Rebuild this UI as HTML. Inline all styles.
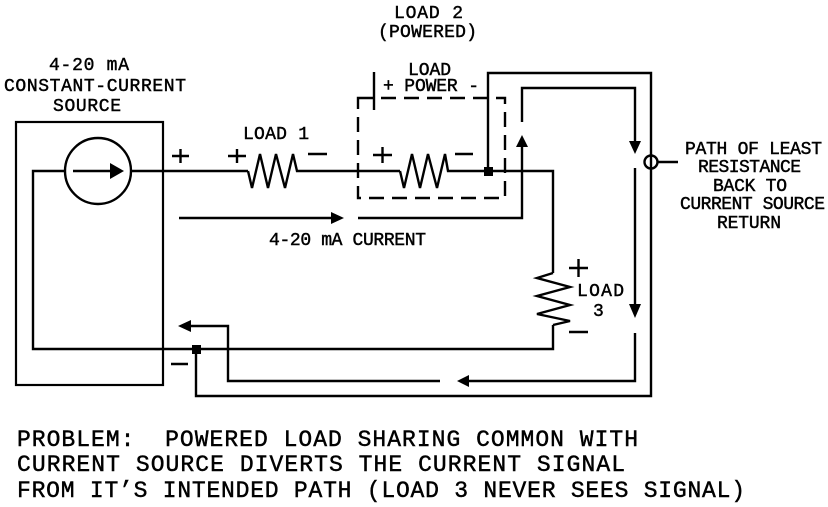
<!DOCTYPE html>
<html>
<head>
<meta charset="utf-8">
<style>
  html,body{margin:0;padding:0;background:#fff;}
  svg{display:block;}
  text{font-family:"Liberation Mono","DejaVu Sans Mono",monospace;fill:#000;stroke:#000;stroke-width:0.45;}
  .s{font-size:18px;}
  .b{font-size:23px;}
</style>
</head>
<body>
<svg width="828" height="507" viewBox="0 0 828 507" xmlns="http://www.w3.org/2000/svg">
  <g fill="none" stroke="#000" stroke-width="2.4" stroke-linejoin="miter" stroke-linecap="butt">
    <!-- source box -->
    <rect x="16" y="122" width="147" height="263" stroke-width="2.2"/>
    <circle cx="98" cy="171" r="33"/>
    <!-- arrow inside source -->
    <line x1="73" y1="171" x2="112" y2="171"/>
    <!-- inner return wire -->
    <path d="M65,171 H33 V349 H553 V325"/>
    <!-- main wire -->
    <path d="M131,171 H248"/>
    <!-- load 1 -->
    <path d="M248,171 L252,188 L260,154 L268,188 L276,154 L285,188 L293,154 L297,171 H400"/>
    <!-- load 2 -->
    <path d="M400,171 L404,188 L412,154 L420,188 L428,154 L437,188 L445,154 L448,171 H553 V273"/>
    <!-- load 3 -->
    <path d="M553,273 L537,278 L570,287 L537,296 L570,305 L537,314 L570,321 L553,325"/>
    <!-- battery plate -->
    <line x1="374" y1="72" x2="374" y2="110"/>
    <!-- dashed box -->
    <rect x="358" y="98" width="147" height="100" stroke-dasharray="15 8"/>
    <!-- outer loop -->
    <path d="M488,171 V73 H651 V396 H196 V349"/>
    <!-- small circle and leader -->
    <circle cx="651" cy="162" r="6.5"/>
    <line x1="658" y1="162" x2="678" y2="162"/>
    <!-- current flow arrows -->
    <path d="M179,218 H333"/>
    <path d="M358,218 H522 V146"/>
    <path d="M522,122 V88 H635 V142"/>
    <path d="M635,168 V305"/>
    <path d="M635,333 V381 H468"/>
    <path d="M440,381 H228 V326 H190"/>
    <!-- big plus / minus signs -->
    <path d="M172,156 H189 M180.5,149 V163"/>
    <path d="M228,156 H246 M237,149 V163"/>
    <path d="M308,154 H327"/>
    <path d="M373,155 H392 M382.5,147 V163"/>
    <path d="M455,154 H473"/>
    <path d="M569,268 H588 M578.5,259 V277"/>
    <path d="M569,332 H588"/>
    <path d="M171,364 H188"/>
  </g>
  <g fill="#000" stroke="none">
    <!-- arrowheads -->
    <polygon points="124,171 110,163 110,179"/>
    <polygon points="344,218 331,212 331,224"/>
    <polygon points="522,135 516,147 528,147"/>
    <polygon points="635,154 629,141 641,141"/>
    <polygon points="635,318 629,304 641,304"/>
    <polygon points="457,381 469,375 469,387"/>
    <polygon points="178,326 191,320 191,332"/>
    <!-- junction dots -->
    <rect x="484" y="167" width="9" height="9"/>
    <rect x="192" y="345" width="9" height="9"/>
  </g>

  <!-- labels -->
  <text class="s" x="49" y="70" textLength="80" lengthAdjust="spacing">4-20 mA</text>
  <text class="s" x="4" y="91" textLength="182" lengthAdjust="spacing">CONSTANT-CURRENT</text>
  <text class="s" x="53" y="111" textLength="68" lengthAdjust="spacing">SOURCE</text>

  <text class="s" x="394" y="18" textLength="69" lengthAdjust="spacing">LOAD 2</text>
  <text class="s" x="378" y="37" textLength="99" lengthAdjust="spacing">(POWERED)</text>

  <text class="s" x="408" y="75" textLength="43" lengthAdjust="spacing">LOAD</text>
  <text class="s" x="383" y="91" textLength="96" lengthAdjust="spacing">+ POWER -</text>

  <text class="s" x="243" y="139" textLength="66" lengthAdjust="spacing">LOAD 1</text>
  <text class="s" x="269" y="245" textLength="157" lengthAdjust="spacing">4-20 mA CURRENT</text>

  <text class="s" x="685" y="154" textLength="137" lengthAdjust="spacing">PATH OF LEAST</text>
  <text class="s" x="698" y="172" textLength="103" lengthAdjust="spacing">RESISTANCE</text>
  <text class="s" x="713" y="191" textLength="74" lengthAdjust="spacing">BACK TO</text>
  <text class="s" x="680" y="209" textLength="145" lengthAdjust="spacing">CURRENT SOURCE</text>
  <text class="s" x="717" y="228" textLength="64" lengthAdjust="spacing">RETURN</text>

  <text class="s" x="577" y="296" textLength="47" lengthAdjust="spacing">LOAD</text>
  <text class="s" x="593" y="316">3</text>

  <text class="b" x="17" y="446" textLength="621" lengthAdjust="spacing" xml:space="preserve">PROBLEM:  POWERED LOAD SHARING COMMON WITH</text>
  <text class="b" x="17" y="471" textLength="608" lengthAdjust="spacing">CURRENT SOURCE DIVERTS THE CURRENT SIGNAL</text>
  <text class="b" x="17" y="497" textLength="728" lengthAdjust="spacing">FROM IT’S INTENDED PATH (LOAD 3 NEVER SEES SIGNAL)</text>
</svg>
</body>
</html>
